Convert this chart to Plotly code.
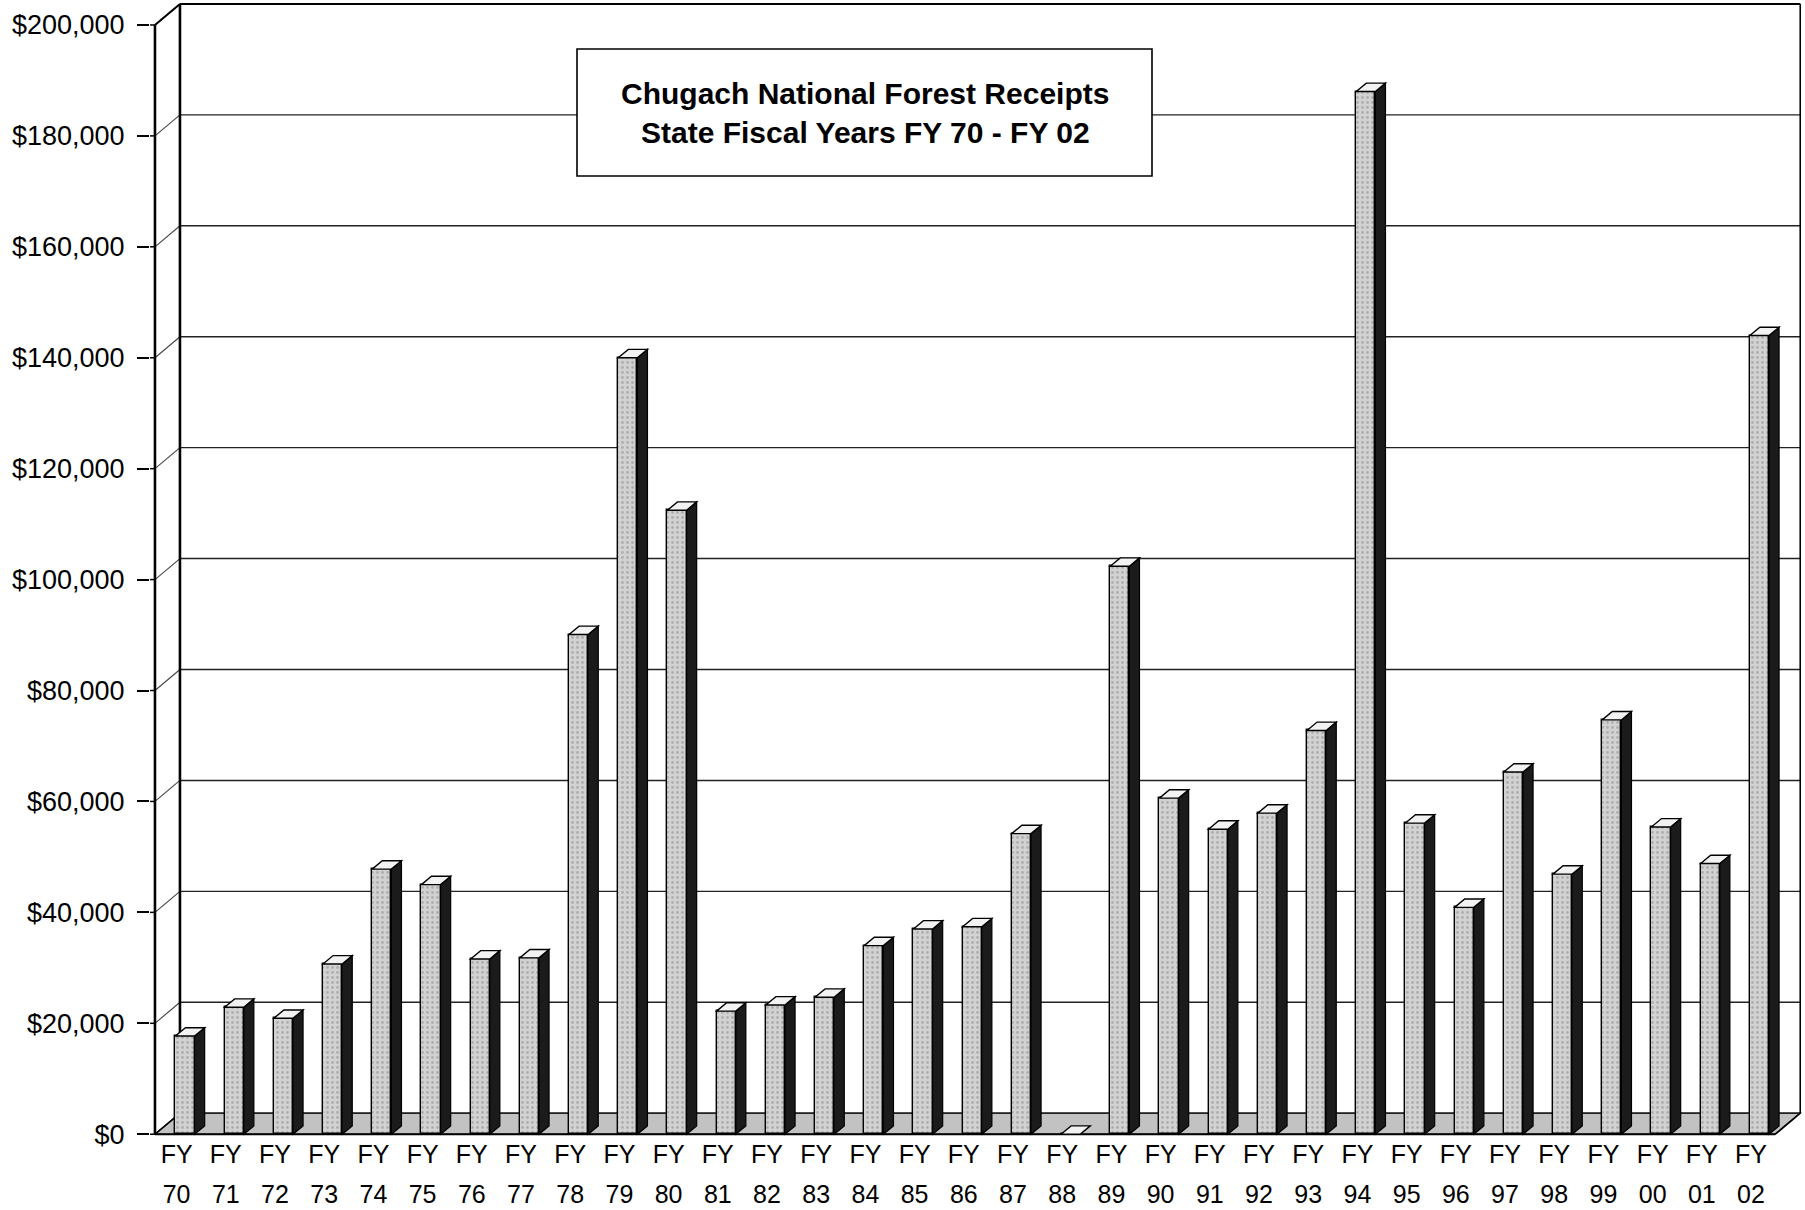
import plotly.graph_objects as go

# ---- data -------------------------------------------------------------
fiscal_years = ["70", "71", "72", "73", "74", "75", "76", "77", "78", "79",
                "80", "81", "82", "83", "84", "85", "86", "87", "88", "89",
                "90", "91", "92", "93", "94", "95", "96", "97", "98", "99",
                "00", "01", "02"]
receipts = [17700, 22900, 20900, 30700, 47800, 45000, 31600, 31800, 90100, 140000,
            112500, 22200, 23300, 24700, 34000, 37000, 37400, 54200, 0, 102400,
            60600, 55000, 57900, 72800, 188000, 56100, 40900, 65300, 46900, 74700,
            55400, 48800, 144000]
y_ticks = [0, 20000, 40000, 60000, 80000, 100000, 120000, 140000, 160000, 180000, 200000]
y_tick_text = ["$" + format(v, ",") for v in y_ticks]
title_lines = ["Chugach National Forest Receipts", "State Fiscal Years FY 70 - FY 02"]

# ---- page / plot geometry ---------------------------------------------
W, H = 1805, 1210
ML, MR, MT, MB = 150, 0, 0, 73
X_RANGE = [-0.711, 32.927]
Y_RANGE = [-500, 204500]

# oblique 3-D box: depth offsets of the back wall and of each bar
WALL_DX, WALL_DY = 0.508, 3790
BAR_W, BAR_DX, BAR_DY = 0.39, 0.205, 1510
X_FRONT = -0.61
X_WALL = X_FRONT + WALL_DX
X_RIGHT = 32.83
X_FRONT_RIGHT = X_RIGHT - WALL_DX
Y_TOP = y_ticks[-1]
LABEL_SHIFT = -0.17

plot_w = W - ML - MR
plot_h = H - MT - MB


def paper_x(px):
    return (px - ML) / plot_w


def paper_y(py):
    return 1 - (py - MT) / plot_h


def poly(points):
    return "M " + " L ".join(f"{x},{y}" for x, y in points) + " Z"


def seg(x0, y0, x1, y1, width=1.5, color="black", layer="below"):
    return dict(type="line", xref="x", yref="y", x0=x0, y0=y0, x1=x1, y1=y1,
                line=dict(color=color, width=width), layer=layer)


shapes = []

# floor
shapes.append(dict(type="path", xref="x", yref="y", layer="below",
                   path=poly([(X_FRONT, 0), (X_FRONT_RIGHT, 0),
                              (X_RIGHT, WALL_DY), (X_WALL, WALL_DY)]),
                   fillcolor="#c2c2c2", line=dict(color="black", width=1.2)))

# back-wall gridlines and the slanted tick connectors
for v in y_ticks:
    shapes.append(seg(X_WALL, v + WALL_DY, X_RIGHT, v + WALL_DY, width=1.4, color="#222"))
    shapes.append(seg(X_RANGE[0], v, X_FRONT, v, width=1.5))
    shapes.append(seg(X_FRONT, v, X_WALL, v + WALL_DY, width=1.1, color="#444"))

# box edges
shapes.append(seg(X_FRONT, 0, X_FRONT, Y_TOP, width=2.6))
shapes.append(seg(X_WALL, WALL_DY, X_WALL, Y_TOP + WALL_DY, width=2.6))
shapes.append(seg(X_FRONT, Y_TOP, X_WALL, Y_TOP + WALL_DY, width=2.0))
shapes.append(seg(X_WALL, Y_TOP + WALL_DY, X_RIGHT, Y_TOP + WALL_DY, width=2.0))
shapes.append(seg(X_RIGHT, WALL_DY, X_RIGHT, Y_TOP + WALL_DY, width=1.6))
shapes.append(seg(X_FRONT, 0, X_FRONT_RIGHT, 0, width=2.2))
shapes.append(seg(X_FRONT_RIGHT, 0, X_RIGHT, WALL_DY, width=1.6))
shapes.append(seg(X_FRONT, 0, X_WALL, WALL_DY, width=1.4))

# side and top faces of every bar, built from its value
for i, v in enumerate(receipts):
    xl, xr = i - BAR_W / 2, i + BAR_W / 2
    if v > 0:
        shapes.append(dict(type="path", xref="x", yref="y", layer="above",
                           path=poly([(xr, 0), (xr + BAR_DX, BAR_DY),
                                      (xr + BAR_DX, v + BAR_DY), (xr, v)]),
                           fillcolor="#1b1b1b", line=dict(color="black", width=1.2)))
    shapes.append(dict(type="path", xref="x", yref="y", layer="above",
                       path=poly([(xl, v), (xr, v), (xr + BAR_DX, v + BAR_DY),
                                  (xl + BAR_DX, v + BAR_DY)]),
                       fillcolor="#f2f2f2", line=dict(color="black", width=1.4)))

# title box
shapes.append(dict(type="rect", xref="paper", yref="paper", layer="above",
                   x0=paper_x(577), x1=paper_x(1152), y0=paper_y(176), y1=paper_y(49),
                   fillcolor="white", line=dict(color="black", width=1.6)))

title_font = dict(size=30, color="black", family="Liberation Sans")
annotations = [
    dict(text=f"<b>{title_lines[0]}</b>", xref="paper", yref="paper",
         x=paper_x(865), y=paper_y(93), xanchor="center", yanchor="middle",
         showarrow=False, font=title_font),
    dict(text=f"<b>{title_lines[1]}</b>", xref="paper", yref="paper",
         x=paper_x(865), y=paper_y(133), xanchor="center", yanchor="middle",
         showarrow=False, font=title_font),
]

fig = go.Figure()
fig.add_trace(go.Bar(
    x=list(range(len(receipts))), y=receipts, width=BAR_W,
    marker=dict(color="#cfcfcf",
                line=dict(color="black", width=1.4),
                pattern=dict(shape=".", fgcolor="#8a8a8a", bgcolor="#d2d2d2",
                             size=5, solidity=0.24)),
    showlegend=False, hoverinfo="skip",
))
# carrier for the upper row of category labels
fig.add_trace(go.Scatter(x=[0], y=[0], xaxis="x2", yaxis="y", mode="none",
                         showlegend=False, hoverinfo="skip"))

tick_pos = [i + LABEL_SHIFT for i in range(len(fiscal_years))]
label_font = dict(size=25, color="black", family="Liberation Sans")

fig.update_layout(
    width=W, height=H,
    margin=dict(l=ML, r=MR, t=MT, b=MB, pad=0, autoexpand=False),
    paper_bgcolor="white", plot_bgcolor="white",
    shapes=shapes, annotations=annotations,
    xaxis=dict(range=X_RANGE, type="linear", tickvals=tick_pos, ticktext=fiscal_years,
               showgrid=False, zeroline=False, showline=False, ticks="",
               tickfont=label_font, ticklabelstandoff=40, automargin=False),
    xaxis2=dict(range=X_RANGE, type="linear", overlaying="x", anchor="y", side="bottom",
                tickvals=tick_pos, ticktext=["FY"] * len(fiscal_years),
                showgrid=False, zeroline=False, showline=False, ticks="",
                tickfont=label_font, ticklabelstandoff=0, automargin=False),
    yaxis=dict(range=Y_RANGE, tickvals=y_ticks, ticktext=y_tick_text,
               showgrid=False, zeroline=False, showline=False,
               ticks="outside", ticklen=12, tickwidth=1.5, tickcolor="black",
               tickfont=dict(size=27, color="black", family="Liberation Sans"),
               ticklabelstandoff=7, automargin=False),
    bargap=0,
)

fig.write_html("out.html")
